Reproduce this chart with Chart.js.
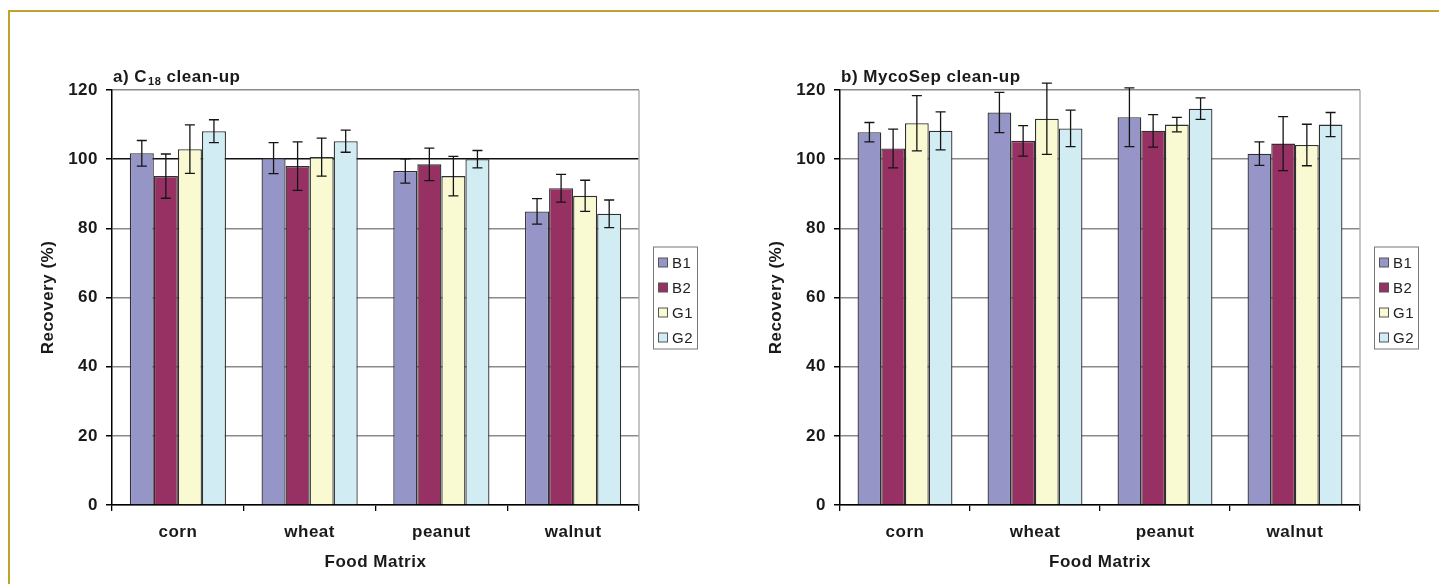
<!DOCTYPE html>
<html>
<head>
<meta charset="utf-8">
<script src="https://cdn.jsdelivr.net/npm/chart.js@4.4.1/dist/chart.umd.min.js"></script>
<style>
  html, body { margin: 0; padding: 0; background: #fff; overflow: hidden; }
  body { width: 1439px; height: 584px; position: relative; }
  #frame { position: absolute; left: 8px; top: 10px; width: 1440px; height: 580px;
           border-top: 2px solid #c0a32a; border-left: 2px solid #c0a32a; }
  .panel { position: absolute; top: 50px; height: 530px; }
  #panelA { left: 20px; width: 700px; }
  #panelB { left: 748px; width: 691px; }
</style>
</head>
<body>
<div id="frame"></div>
<div class="panel" id="panelA"><canvas id="chartA"></canvas></div>
<div class="panel" id="panelB"><canvas id="chartB"></canvas></div>
<script>
// food matrices and aflatoxins
const categories = ['corn', 'wheat', 'peanut', 'walnut'];
const seriesNames = ['B1', 'B2', 'G1', 'G2'];
const seriesColors = ['#9595c8', '#983163', '#fafad2', '#d2ecf4'];
const yTicks = [0, 20, 40, 60, 80, 100, 120];

// a) C18 clean-up - mean recovery and error
const c18B1 = [101.7, 100.3, 96.6, 84.9];
const c18B2 = [95.1, 98.0, 98.5, 91.6];
const c18G1 = [102.9, 100.6, 95.1, 89.4];
const c18G2 = [108.1, 105.2, 100.0, 84.2];
const c18B1Err = [3.7, 4.5, 3.5, 3.7];
const c18B2Err = [6.4, 7.0, 4.7, 4.0];
const c18G1Err = [7.0, 5.5, 5.7, 4.5];
const c18G2Err = [3.3, 3.2, 2.5, 4.0];

// b) MycoSep clean-up
const mycoB1 = [107.8, 113.5, 112.1, 101.6];
const mycoB2 = [103.1, 105.3, 108.2, 104.5];
const mycoG1 = [110.4, 111.7, 110.0, 104.1];
const mycoG2 = [108.2, 108.9, 114.6, 110.0];
const mycoB1Err = [2.8, 5.8, 8.5, 3.4];
const mycoB2Err = [5.6, 4.4, 4.7, 7.8];
const mycoG1Err = [8.0, 10.3, 2.1, 6.0];
const mycoG2Err = [5.5, 5.3, 3.1, 3.5];

const FONT = "'Liberation Sans', Arial, sans-serif";

// slightly wider text like the original figure
const spacing = {
  id: 'spacing',
  beforeDraw(chart) { chart.ctx.letterSpacing = '0.5px'; }
};

// error bars drawn over each bar
const errorBars = {
  id: 'errorBars',
  afterDatasetsDraw(chart) {
    const ctx = chart.ctx;
    const y = chart.scales.y;
    ctx.save();
    ctx.strokeStyle = '#151515';
    ctx.lineWidth = 1.3;
    chart.data.datasets.forEach((ds, i) => {
      chart.getDatasetMeta(i).data.forEach((bar, j) => {
        const top = y.getPixelForValue(ds.data[j] + ds.errors[j]);
        const bot = y.getPixelForValue(ds.data[j] - ds.errors[j]);
        ctx.beginPath();
        ctx.moveTo(bar.x, top); ctx.lineTo(bar.x, bot);
        ctx.moveTo(bar.x - 5, top); ctx.lineTo(bar.x + 5, top);
        ctx.moveTo(bar.x - 5, bot); ctx.lineTo(bar.x + 5, bot);
        ctx.stroke();
      });
    });
    ctx.restore();
  }
};

// panel title with subscript, right plot edge and boxed legend
const panelDecor = {
  id: 'panelDecor',
  afterDraw(chart, args, opts) {
    const ctx = chart.ctx;
    const area = chart.chartArea;
    ctx.save();
    // right edge of plot
    ctx.strokeStyle = '#b0b0b0';
    ctx.lineWidth = 1.5;
    ctx.beginPath();
    ctx.moveTo(area.right, area.top); ctx.lineTo(area.right, area.bottom);
    ctx.stroke();

    // title
    ctx.fillStyle = '#1a1a1a';
    ctx.textBaseline = 'alphabetic';
    let x = area.left + 1;
    const base = area.top - 8;
    ctx.font = 'bold 17px ' + FONT;
    ctx.fillText(opts.prefix, x, base);
    x += ctx.measureText(opts.prefix).width;
    if (opts.sub) {
      ctx.font = 'bold 11px ' + FONT;
      ctx.fillText(opts.sub, x + 1, base + 3);
      x += ctx.measureText(opts.sub).width + 1;
      ctx.font = 'bold 17px ' + FONT;
    }
    ctx.fillText(opts.suffix, x, base);

    // legend
    const bx = area.right + 14, bw = 44, bh = 102;
    const by = (area.top + area.bottom) / 2 - bh / 2;
    ctx.strokeStyle = '#777';
    ctx.lineWidth = 1;
    ctx.strokeRect(bx + 0.5, by + 0.5, bw, bh);
    ctx.font = '15px ' + FONT;
    ctx.textBaseline = 'middle';
    chart.data.datasets.forEach((ds, i) => {
      const cy = by + 16 + i * 25;
      ctx.fillStyle = ds.backgroundColor;
      ctx.fillRect(bx + 5.5, cy - 4.5, 9, 9);
      ctx.strokeStyle = '#555';
      ctx.strokeRect(bx + 5.5, cy - 4.5, 9, 9);
      ctx.fillStyle = '#222';
      ctx.fillText(ds.label, bx + 19, cy + 1);
    });
    ctx.restore();
  }
};

function makeDatasets(values, errors) {
  return seriesNames.map((name, i) => ({
    label: name,
    data: values[i],
    errors: errors[i],
    backgroundColor: seriesColors[i],
    borderColor: '#303030',
    borderWidth: 1.3,
    barPercentage: 1.0,
    categoryPercentage: 0.73
  }));
}

function makeChart(id, datasets, title, rightPad, darkHundred) {
  return new Chart(document.getElementById(id), {
    type: 'bar',
    data: { labels: categories, datasets: datasets },
    plugins: [spacing, errorBars, panelDecor],
    options: {
      responsive: true,
      maintainAspectRatio: false,
      animation: false,
      layout: { padding: { top: 40, right: rightPad, left: 0, bottom: 0 } },
      plugins: {
        legend: { display: false },
        tooltip: { enabled: false },
        panelDecor: title
      },
      scales: {
        x: {
          afterFit: (s) => { s.height = 75; },
          grid: { offset: true, drawOnChartArea: false, tickLength: 6, tickColor: '#000', lineWidth: 1.3 },
          border: { color: '#000', width: 1.5 },
          ticks: { color: '#1a1a1a', padding: 11, font: { family: FONT, size: 17, weight: 'bold' } },
          title: { display: true, text: 'Food Matrix', color: '#1a1a1a', padding: { bottom: 7 },
                   font: { family: FONT, size: 17, weight: 'bold' } }
        },
        y: {
          min: 0, max: 120,
          afterFit: (s) => { s.width = 92; },
          afterBuildTicks: (s) => { s.ticks = yTicks.map(v => ({ value: v })); },
          grid: {
            color: (c) => (darkHundred && c.tick && c.tick.value === 100) ? '#111' : '#8a8a8a',
            lineWidth: 1.5, tickLength: 6, tickColor: '#000'
          },
          border: { color: '#000', width: 1.5 },
          ticks: { color: '#1a1a1a', padding: 8, font: { family: FONT, size: 17, weight: 'bold' } },
          title: { display: true, text: 'Recovery (%)', color: '#1a1a1a', padding: { top: 18 },
                   font: { family: FONT, size: 17, weight: 'bold' } }
        }
      }
    }
  });
}

makeChart('chartA',
  makeDatasets([c18B1, c18B2, c18G1, c18G2], [c18B1Err, c18B2Err, c18G1Err, c18G2Err]),
  { prefix: 'a) C', sub: '18', suffix: ' clean-up' }, 81, true);

makeChart('chartB',
  makeDatasets([mycoB1, mycoB2, mycoG1, mycoG2], [mycoB1Err, mycoB2Err, mycoG1Err, mycoG2Err]),
  { prefix: 'b) MycoSep clean-up', sub: '', suffix: '' }, 79, false);
</script>
</body>
</html>
